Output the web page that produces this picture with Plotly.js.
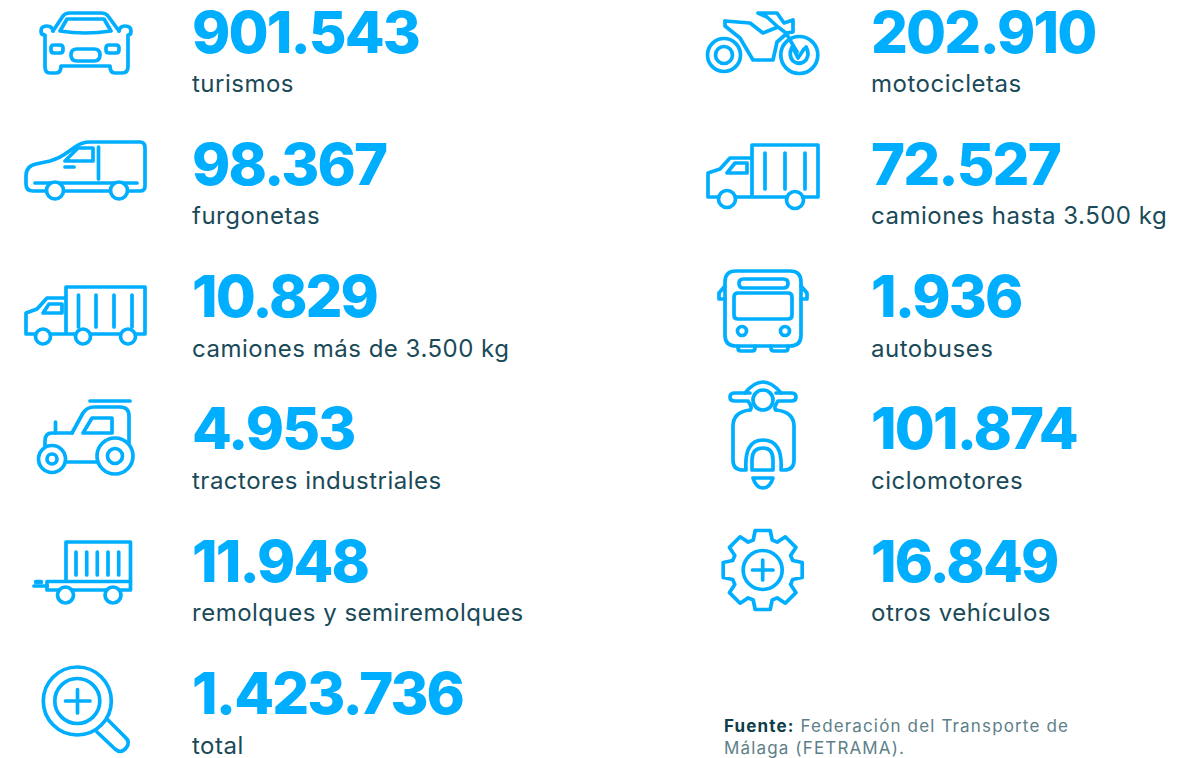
<!DOCTYPE html>
<html><head><meta charset="utf-8">
<script src="https://cdn.plot.ly/plotly-3.0.1.min.js"></script>
<style>
html,body{margin:0;padding:0;background:#fff;overflow:hidden}
#c{width:1202px;height:758px}
.shapelayer path{stroke-linejoin:round;stroke-linecap:round}
.scatterlayer .trace:nth-child(1) text,.scatterlayer .trace:nth-child(2) text{letter-spacing:-1.9px}
.scatterlayer .trace:nth-child(3) text,.scatterlayer .trace:nth-child(4) text{letter-spacing:0.5px}
.annotation-text{letter-spacing:1.15px}
</style></head><body><div id="c"></div>
<script>
// Data
const leftCategories=["turismos","furgonetas","camiones más de 3.500 kg","tractores industriales","remolques y semiremolques","total"];
const leftValues=["901.543","98.367","10.829","4.953","11.948","1.423.736"];
const rightCategories=["motocicletas","camiones hasta 3.500 kg","autobuses","ciclomotores","otros vehículos"];
const rightValues=["202.910","72.527","1.936","101.874","16.849"];
const sourceBold="Fuente:";
const sourceLines=["Federación del Transporte de","Málaga (FETRAMA)."];

// Layout constants
const W=1202,H=758,BLUE="#00aeff",DARK="#1a4a58",GREY="#5d7f88";
const leftX=192,rightX=871,valueY0=38,labelY0=86,pitch=132.3;
const FONT="Inter, 'Noto Sans', sans-serif";
const rowY=(y0,n)=>Array.from({length:n},(_,i)=>y0+pitch*i);

function textTrace(x,y0,text,size,color,weight){
  return {type:"scatter",mode:"text",x:text.map(()=>x),y:rowY(y0,text.length),text,
    textposition:"middle right",hoverinfo:"skip",showlegend:false,cliponaxis:false,
    textfont:{family:FONT,size,color,weight}};
}
const traces=[
  textTrace(leftX,valueY0,leftValues,58,BLUE,800),
  textTrace(rightX,valueY0,rightValues,58,BLUE,800),
  textTrace(leftX,labelY0,leftCategories,24,DARK,400),
  textTrace(rightX,labelY0,rightCategories,24,DARK,400)
];

// Icon helpers
const shapes=[];
const SW=3.7;
const P=(d,w)=>shapes.push({type:"path",path:d,xref:"x",yref:"y",line:{color:BLUE,width:w||SW},fillcolor:"rgba(0,0,0,0)",layer:"above"});
const C=(x,y,r,w,fill)=>shapes.push({type:"circle",x0:x-r,x1:x+r,y0:y-r,y1:y+r,xref:"x",yref:"y",line:{color:BLUE,width:w||SW},fillcolor:fill||"#fff",layer:"above"});
const R=(a,b,c,d,r)=>P(`M${a+r},${b}H${c-r}Q${c},${b},${c},${b+r}V${d-r}Q${c},${d},${c-r},${d}H${a+r}Q${a},${d},${a},${d-r}V${b+r}Q${a},${b},${a+r},${b}Z`);

// car
P("M53,31L63,16Q65,13,70,13H101Q106,13,108,16L119,31");
P("M53,31Q52,26,47,26Q41,26,41,31Q41,35,45,35V67Q45,73,50,73H56Q61,73,61,66H110Q110,73,115,73H122Q128,73,128,67V35Q131,35,131,31Q131,26,125,26Q120,26,119,31");
P("M60,31L67,19H104L111,31Q85,35,60,31Z");
R(51,45,63,53,3);R(106,45,119,53,3);R(71,49,100,61,6);
// van
P("M46,191H33Q26,191,26,184V176Q26,166,36,164L50,161Q60,158,68,152L75,147Q82,142,90,142H140Q145,142,145,148V186Q145,191,140,191H128M110,191H64");
P("M35,183H137");C(55,190.5,8.5);C(119,190.5,8.5);
P("M65,161L78,148H93V161Z");P("M65,167H74");P("M98.5,147V179");
// truck big
P("M26,334V313L37,309L47,298H66M66,334V287H145V334M26,334H145");
P("M43,313L49,304H62V313Z");
[78.5,96,114,132].forEach(x=>P(`M${x},295V327`));
[43,83,128].forEach(x=>C(x,336.5,7.5));
// tractor
P("M90,401H130");
P("M72,433L83,413Q87,407,94,407H120Q129,407,129,416V443");
P("M72,433H52Q45,433,45,441V447");P("M55.5,422V433");P("M65,462H100");
P("M83,433L92,418H112V433Z");
C(52,459,13.5);C(52,459,5);C(115,456,18);C(115,456,7.5);
// trailer
P("M66,581V542H130.5V590H47V581.5H130");P("M34,586H47");P("M36,582H41",4.5);
[76,86.7,97.3,108,118.7].forEach(x=>P(`M${x},552V575`));
C(65.5,595,8);C(113,595,8);
// magnifier
C(77.3,701,34,SW,"rgba(0,0,0,0)");C(77.3,701,22.5,SW,"rgba(0,0,0,0)");
P("M65.5,701H90M77.5,689.5V713");
P("M97,732L115,749Q121,754,126,748Q131,742,125,737L108,720");
// motorbike
C(724,55,16.5);C(724,55,8.5);C(799.3,55,18.5);
P("M725,21L750,23L763,33L778,27L767,17L758,13H777L784,23L793,20V32L786,33L778,27M786,33L797,52");
P("M725,21V26L740,38L753,60H773L777,42L785,35");
P("M792,47Q788,55,793,61Q800,66,806,60Q810,54,806,47M794,50L798,58L804,49");
// truck small
P("M708,197V173L720,169L730,158H752M752,197V145H818V197M708,197H818");
P("M727,173L735,163H747V173Z");
[765,785,805].forEach(x=>P(`M${x},153V189`));
C(727,199,8.5);C(795,200,8.5);
// bus
R(725,271,801,346,11);R(739,279,788,288,4.5);R(734,293,792,319,4);
C(742,331,4.5);C(785,331,4.5);
P("M725,286L719,293V299H725M801,286L807,293V299H801");
P("M738,346V348Q738,351,741,351H752Q755,351,755,348V346M771,346V348Q771,351,774,351H785Q788,351,788,348V346");
// scooter
C(763,400,10);
P("M745,393Q763,371,781,393");
P("M750,393H735Q730,393,730,397Q730,401,735,401H748Q753,408,750,410M776,393H791Q796,393,796,397Q796,401,791,401H778Q773,408,776,410");
P("M750,410Q733,412,733,426V460Q733,470,743,470H746Q744,440,763,440Q783,440,781,470H784Q794,470,794,460V426Q794,412,776,410");
P("M752,470V460Q752,448,763,448Q773,448,773,460V470Z");
P("M753,478H773Q770,488,763,488Q756,488,753,478Z");
// gear
(function(){const cx=762.7,cy=570,ro=39.5,ri=30,n=8;let d="";
 for(let i=0;i<n;i++){const a=-Math.PI/2+i*2*Math.PI/n;
  const pts=[[-9.5,ri],[-7.5,ro],[7.5,ro],[9.5,ri]];
  pts.forEach(([t,r])=>{const x=cx+r*Math.cos(a)-t*Math.sin(a),y=cy+r*Math.sin(a)+t*Math.cos(a);
   d+=(d?"L":"M")+x.toFixed(1)+","+y.toFixed(1);});
 }
 P(d+"Z");
})();
C(762.7,570,19.5,SW,"rgba(0,0,0,0)");P("M752.5,570H773M762.7,560V580");

const annotations=[{xref:"x",yref:"y",x:722,y:736.5,xanchor:"left",yanchor:"middle",align:"left",showarrow:false,
  text:`<b style="color:#0f3d4b">${sourceBold}</b> ${sourceLines[0]}<br>${sourceLines[1]}`,
  font:{family:FONT,size:17,color:GREY,weight:400}}];

const axis={visible:false,fixedrange:true};
Plotly.newPlot("c",traces,{
  width:W,height:H,margin:{l:0,r:0,t:0,b:0},paper_bgcolor:"#fff",plot_bgcolor:"#fff",showlegend:false,
  xaxis:{...axis,range:[0,W]},yaxis:{...axis,range:[H,0]},shapes,annotations
},{displayModeBar:false,staticPlot:true});
</script></body></html>
